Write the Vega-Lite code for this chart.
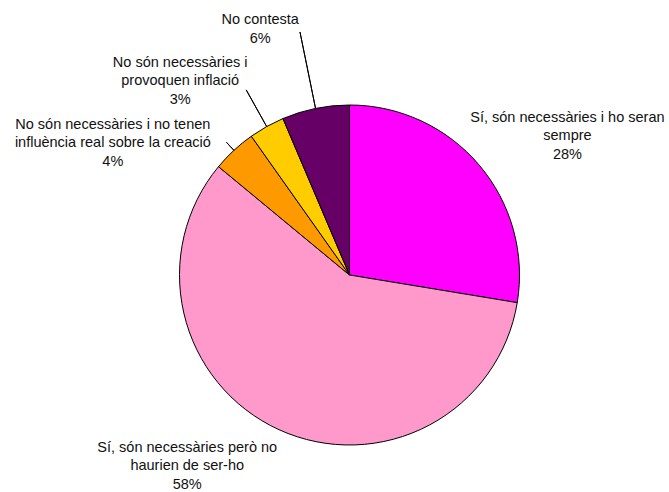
{
  "$schema": "https://vega.github.io/schema/vega-lite/v6.json",
  "autosize": {"type": "none"},
  "padding": {"left": 30, "top": 58, "right": 0, "bottom": 0},
  "width": 639,
  "height": 434,
  "background": "white",
  "config": {"view": {"stroke": null}},
  "data": {
    "values": [
      {"k": 1, "cat": "Sí, són necessàries i ho seran sempre", "value": 27.6, "label": "Sí, són necessàries i ho seran\nsempre\n28%"},
      {"k": 2, "cat": "Sí, són necessàries però no haurien de ser-ho", "value": 58.4, "label": "Sí, són necessàries però no\nhaurien de ser-ho\n58%"},
      {"k": 3, "cat": "No són necessàries i no tenen influència real sobre la creació", "value": 4.2, "label": "No són necessàries i no tenen\ninfluència real sobre la creació\n4%"},
      {"k": 4, "cat": "No són necessàries i provoquen inflació", "value": 3.4, "label": "No són necessàries i\nprovoquen inflació\n3%"},
      {"k": 5, "cat": "No contesta", "value": 6.4, "label": "No contesta\n6%"}
    ]
  },
  "transform": [
    {"stack": "value", "groupby": [], "sort": [{"field": "k", "order": "ascending"}], "as": ["t0", "t1"]},
    {"calculate": "(datum.t0 + datum.t1) / 2", "as": "tm"}
  ],
  "layer": [
    {
      "mark": {"type": "arc", "outerRadius": 170, "stroke": "black", "strokeWidth": 1},
      "encoding": {
        "theta": {"field": "t0", "type": "quantitative", "scale": {"domain": [0, 100]}},
        "theta2": {"field": "t1"},
        "color": {
          "field": "cat",
          "type": "nominal",
          "scale": {
            "domain": [
              "Sí, són necessàries i ho seran sempre",
              "Sí, són necessàries però no haurien de ser-ho",
              "No són necessàries i no tenen influència real sobre la creació",
              "No són necessàries i provoquen inflació",
              "No contesta"
            ],
            "range": ["#FF00FF", "#FF99CC", "#FF9900", "#FFCC00", "#660066"]
          },
          "legend": null
        }
      }
    },
    {
      "transform": [{"filter": "datum.k == 3"}],
      "mark": {"type": "arc", "innerRadius": 170, "outerRadius": 181, "fill": null, "stroke": "black", "strokeWidth": 1},
      "encoding": {"theta": {"field": "tm", "type": "quantitative", "scale": {"domain": [0, 100]}}, "theta2": {"field": "tm"}}
    },
    {
      "transform": [{"filter": "datum.k == 4"}],
      "mark": {"type": "arc", "innerRadius": 170, "outerRadius": 212, "fill": null, "stroke": "black", "strokeWidth": 1},
      "encoding": {"theta": {"field": "tm", "type": "quantitative", "scale": {"domain": [0, 100]}}, "theta2": {"field": "tm"}}
    },
    {
      "transform": [{"filter": "datum.k == 5"}],
      "mark": {"type": "arc", "innerRadius": 170, "outerRadius": 248, "fill": null, "stroke": "black", "strokeWidth": 1},
      "encoding": {"theta": {"field": "tm", "type": "quantitative", "scale": {"domain": [0, 100]}}, "theta2": {"field": "tm"}}
    },
    {
      "mark": {"type": "text", "radius": 255, "dx": 23.5, "dy": 7.5, "align": "center", "baseline": "middle", "lineBreak": "\n", "lineHeight": 18.5, "font": "Liberation Sans", "fontSize": 14.5, "color": "#111"},
      "encoding": {
        "theta": {"field": "tm", "type": "quantitative", "scale": {"domain": [0, 100]}},
        "text": {"condition": {"test": "datum.k == 1", "field": "label"}, "value": ""}
      }
    },
    {
      "mark": {"type": "text", "radius": 255, "dx": -56.6, "dy": -59.2, "align": "center", "baseline": "middle", "lineBreak": "\n", "lineHeight": 18.5, "font": "Liberation Sans", "fontSize": 14.5, "color": "#111"},
      "encoding": {
        "theta": {"field": "tm", "type": "quantitative", "scale": {"domain": [0, 100]}},
        "text": {"condition": {"test": "datum.k == 2", "field": "label"}, "value": ""}
      }
    },
    {
      "mark": {"type": "text", "radius": 255, "dx": -63.3, "dy": 36.8, "align": "center", "baseline": "middle", "lineBreak": "\n", "lineHeight": 18.5, "font": "Liberation Sans", "fontSize": 14.5, "color": "#111"},
      "encoding": {
        "theta": {"field": "tm", "type": "quantitative", "scale": {"domain": [0, 100]}},
        "text": {"condition": {"test": "datum.k == 3", "field": "label"}, "value": ""}
      }
    },
    {
      "mark": {"type": "text", "radius": 255, "dx": -45.1, "dy": 10.6, "align": "center", "baseline": "middle", "lineBreak": "\n", "lineHeight": 18.5, "font": "Liberation Sans", "fontSize": 14.5, "color": "#111"},
      "encoding": {
        "theta": {"field": "tm", "type": "quantitative", "scale": {"domain": [0, 100]}},
        "text": {"condition": {"test": "datum.k == 4", "field": "label"}, "value": ""}
      }
    },
    {
      "mark": {"type": "text", "radius": 255, "dx": -38.4, "dy": -4.9, "align": "center", "baseline": "middle", "lineBreak": "\n", "lineHeight": 18.5, "font": "Liberation Sans", "fontSize": 14.5, "color": "#111"},
      "encoding": {
        "theta": {"field": "tm", "type": "quantitative", "scale": {"domain": [0, 100]}},
        "text": {"condition": {"test": "datum.k == 5", "field": "label"}, "value": ""}
      }
    }
  ]
}
